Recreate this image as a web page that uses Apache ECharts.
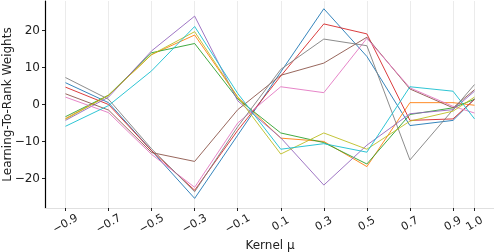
<!DOCTYPE html>
<html><head><meta charset="utf-8">
<script src="https://cdn.jsdelivr.net/npm/echarts@6/dist/echarts.min.js"></script>
<style>html,body{margin:0;padding:0;background:#fff}#c{width:494px;height:252px}</style>
</head><body><div id="c"></div>
<script>
const xValues = [-0.9, -0.7, -0.5, -0.3, -0.1, 0.1, 0.3, 0.5, 0.7, 0.9, 1.0];
const xTickLabels = ['−0.9','−0.7','−0.5','−0.3','−0.1','0.1','0.3','0.5','0.7','0.9','1.0'];
const yTicks = [-20, -10, 0, 10, 20];
const sBlue   = [5.9, 0.5, -12.5, -25.4, -8.3, 8.8, 25.9, 13.0, -5.7, -4.3, 1.5];
const sOrange = [-3.8, 2.5, 13.5, 18.8, 2.0, -9.1, -10.0, -16.8, 0.5, 0.5, -0.2];
const sGreen  = [-3.3, 2.5, 14.0, 16.5, 1.5, -7.7, -10.3, -16.1, -2.7, -0.9, 1.4];
const sRed    = [4.7, 0.0, -12.5, -23.2, -7.0, 7.7, 21.8, 19.1, -4.3, -3.9, 1.4];
const sPurple = [-4.3, 2.0, 14.5, 23.9, 1.0, -9.0, -21.8, -11.0, -2.5, -1.4, 3.6];
const sBrown  = [2.9, -1.5, -13.0, -15.4, -1.4, 7.9, 11.2, 18.2, 4.2, -0.9, 4.0];
const sPink   = [2.0, -2.2, -13.5, -22.4, -5.0, 4.8, 3.2, 17.9, 4.5, -0.5, -2.3];
const sGray   = [7.3, 1.4, -12.0, -23.6, -6.0, 9.5, 17.7, 15.9, -15.0, -1.4, 5.4];
const sOlive  = [-4.0, 2.5, 13.5, 19.7, 2.0, -13.4, -7.7, -12.1, -4.5, -1.8, 2.0];
const sCyan   = [-5.9, -0.3, 9.1, 21.1, 3.0, -12.1, -10.6, -12.9, 4.8, 3.6, -3.9];

const seriesList = [sBlue, sOrange, sGreen, sRed, sPurple, sBrown, sPink, sGray, sOlive, sCyan];
const colors = ['#1f77b4','#ff7f0e','#2ca02c','#d62728','#9467bd','#8c564b','#e377c2','#7f7f7f','#bcbd22','#17becf'];
const FONT = 'DejaVu Sans';

const chart = echarts.init(document.getElementById('c'), null, {renderer: 'canvas'});
chart.setOption({
  animation: false,
  grid: {left: 45, right: -1, top: 1, bottom: 44, containLabel: false, outerBoundsMode: 'none'},
  xAxis: {
    type: 'value', min: -0.995, max: 1.095,
    name: 'Kernel μ', nameLocation: 'middle', nameGap: 32, nameMoveOverlap: false,
    nameTextStyle: {fontFamily: FONT, fontSize: 12, color: '#222'},
    axisLine: {show: true, onZero: false, lineStyle: {color: '#e0e0e0', width: 1}},
    axisTick: {show: true, customValues: xValues, length: 3, lineStyle: {color: '#222'}},
    axisLabel: {
      customValues: xValues, rotate: 30, margin: 16,
      align: 'center', verticalAlign: 'middle', hideOverlap: false,
      fontFamily: FONT, fontSize: 11, color: '#222',
      formatter: v => { const i = xValues.findIndex(x => Math.abs(x - v) < 1e-6); return i >= 0 ? xTickLabels[i] : ''; }
    },
    splitLine: {show: true, lineStyle: {color: '#ebebeb', width: 1}}
  },
  yAxis: {
    type: 'value', min: -28, max: 28,
    name: 'Learning-To-Rank Weights', nameLocation: 'middle', nameGap: 31, nameMoveOverlap: false,
    nameTextStyle: {fontFamily: FONT, fontSize: 12, color: '#222'},
    axisLine: {show: true, onZero: false, lineStyle: {color: '#000', width: 1.2}},
    axisTick: {show: true, customValues: yTicks, length: 3, lineStyle: {color: '#222'}},
    axisLabel: {customValues: yTicks, margin: 5, fontFamily: FONT, fontSize: 12, color: '#222',
      formatter: v => (v < 0 ? '−' + Math.abs(v) : String(v))},
    splitLine: {show: false}
  },
  series: seriesList.map((s, i) => ({
    type: 'line', data: xValues.map((x, j) => [x, s[j]]),
    showSymbol: false, symbol: 'none',
    lineStyle: {color: colors[i], width: 0.9},
    itemStyle: {color: colors[i]}, z: 2 + i
  }))
});
</script></body></html>
